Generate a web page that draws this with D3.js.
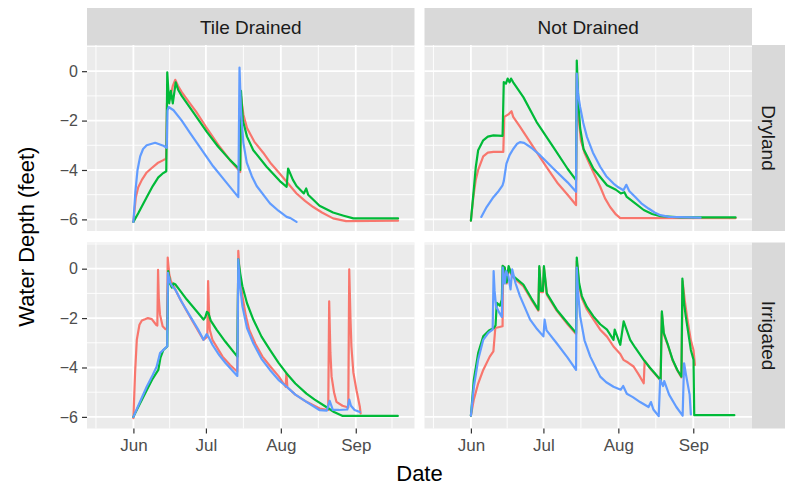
<!DOCTYPE html>
<html>
<head>
<meta charset="utf-8">
<script src="https://cdn.jsdelivr.net/npm/d3@7"></script>
<style>
  body { margin: 0; background: #fff; }
  text { font-family: "Liberation Sans", Arial, sans-serif; }
</style>
</head>
<body>
<svg id="chart" width="785" height="486"></svg>
<script>
// Water depth (feet) by day since June 1, three sites per panel.
// Each series: [day offset from Jun 1, depth].

// Tile Drained / Dryland
const tdDry1 = [[0,-6.1],[1,-5.1],[2,-4.7],[3.5,-4.4],[5.5,-4.1],[7.6,-3.92],[10,-3.72],[12.4,-3.6],[13.5,-3.55],[13.9,-1.3],[15,-1.15],[16.3,-0.6],[17.3,-0.35],[18.5,-0.6],[20,-0.85],[23,-1.25],[26,-1.65],[30,-2.25],[35.6,-3.05],[40,-3.6],[44.2,-4.08],[44.5,-1.0],[45.5,-1.75],[47,-2.3],[50,-2.85],[53.7,-3.3],[57,-3.75],[60.6,-4.15],[64,-4.55],[67.5,-4.95],[71,-5.25],[74.4,-5.5],[78,-5.72],[82.6,-5.96],[88,-6.07],[109.5,-6.05]];
const tdDry2 = [[0,-6.1],[2,-5.75],[5.5,-5.1],[8,-4.65],[10.3,-4.3],[12,-4.15],[13.6,-4.05],[14,-0.05],[14.8,-1.3],[15.5,-0.8],[16.3,-1.3],[17.5,-0.45],[18.5,-0.75],[20,-1.0],[25,-1.7],[30.3,-2.45],[35,-3.05],[40,-3.6],[44.2,-4.0],[44.5,-0.8],[45.3,-2.0],[47,-2.65],[49.6,-3.2],[55.1,-3.87],[60.6,-4.45],[63.4,-4.68],[64,-3.94],[66,-4.4],[67.5,-4.65],[70.5,-4.95],[71.5,-4.75],[72.3,-5.0],[77,-5.45],[82.6,-5.72],[87,-5.85],[91,-5.96],[109.5,-5.96]];
const tdDry3 = [[0,-6.1],[0.8,-4.9],[1.7,-4.0],[2.8,-3.45],[4,-3.15],[5.5,-3.0],[9,-2.9],[12.4,-3.02],[13.8,-3.1],[14.1,-1.6],[14.6,-1.45],[16.6,-1.58],[20,-2.0],[23.4,-2.5],[28,-3.15],[33,-3.85],[38,-4.45],[43.4,-5.1],[43.9,0.15],[44.5,-1.6],[45.5,-2.9],[46.9,-3.7],[49,-4.25],[51,-4.65],[56.5,-5.35],[60,-5.65],[63.4,-5.9],[65,-5.95],[67.5,-6.1]];

// Not Drained / Dryland
const ndDry1 = [[0,-6.05],[1,-5.1],[2,-4.4],[3,-4.0],[5.1,-3.45],[7,-3.3],[9.3,-3.27],[13.4,-3.27],[13.8,-1.85],[15.5,-1.75],[16.8,-1.62],[17.5,-1.85],[20,-2.2],[22.8,-2.62],[27,-3.25],[31.1,-3.85],[36,-4.55],[40,-5.0],[43.5,-5.42],[43.8,-0.1],[44.4,-1.7],[45.5,-2.8],[47,-3.3],[50,-3.95],[53.5,-4.68],[55.5,-5.15],[57.6,-5.5],[60,-5.8],[61.8,-5.95],[109.5,-5.95]];
const ndDry2 = [[0,-6.05],[1,-5.0],[2,-3.9],[3,-3.2],[5.1,-2.8],[7,-2.65],[9.3,-2.6],[13.1,-2.62],[13.6,-0.44],[14.5,-0.5],[15.2,-0.3],[16,-0.45],[16.6,-0.3],[17.5,-0.45],[21.7,-1.05],[27.2,-2.06],[34.1,-3.07],[40,-3.95],[43.5,-4.41],[43.8,0.43],[44.5,-1.3],[45.2,-2.3],[46.6,-3.15],[50.7,-3.95],[56.3,-4.62],[60,-4.8],[62,-4.95],[63.5,-4.9],[64.5,-5.09],[68,-5.35],[71.5,-5.62],[75,-5.78],[78.4,-5.87],[86.7,-5.92],[109.5,-5.92]];
const ndDry3 = [[4.3,-5.9],[6.5,-5.5],[9.3,-5.1],[11.5,-4.85],[13.1,-4.62],[13.6,-4.45],[14.7,-3.74],[16,-3.4],[17.5,-3.15],[19,-2.95],[20.3,-2.87],[22,-2.9],[25,-3.1],[28.6,-3.4],[34.1,-3.94],[40,-4.5],[43.5,-4.88],[43.8,-0.1],[44.3,-0.9],[45.2,-1.45],[46.5,-2.1],[48,-2.66],[50.5,-3.3],[53.5,-3.87],[56,-4.25],[59,-4.55],[61,-4.7],[63.1,-4.82],[64.3,-4.6],[65.5,-4.85],[68,-5.09],[70.5,-5.35],[73.5,-5.56],[76,-5.72],[78.4,-5.83],[82,-5.9],[95,-5.93]];

// Tile Drained / Irrigated
const tdIrr1 = [[0,-6.05],[0.7,-4.2],[1.4,-2.88],[2.5,-2.27],[3.5,-2.1],[4.8,-2.05],[6,-2.0],[7.6,-2.04],[9.4,-2.27],[9.9,-2.3],[10.2,-0.05],[10.5,-1.2],[11,-1.86],[12.1,-2.33],[13.3,-2.45],[13.9,-2.4],[14.2,0.45],[14.8,-0.2],[15.5,-0.5],[16.6,-0.7],[19.4,-1.25],[22,-1.7],[24.9,-2.2],[27,-2.55],[29,-2.88],[30.6,-2.75],[30.9,-0.5],[31.3,-1.8],[31.6,-2.47],[32.7,-2.88],[36.9,-3.56],[40,-3.9],[43,-4.17],[43.4,0.72],[44,-0.3],[45.1,-1.11],[46.5,-1.9],[47.9,-2.47],[50.5,-3.05],[53.4,-3.56],[57,-4.0],[60.2,-4.37],[63,-4.78],[63.3,-4.24],[63.7,-4.8],[67,-5.1],[71.6,-5.39],[77.1,-5.66],[80.6,-5.72],[81,-1.32],[81.5,-3.4],[82,-4.37],[83,-5.0],[84,-5.39],[86.5,-5.55],[88.9,-5.62],[89.3,-0.03],[89.8,-2.0],[90.2,-3.15],[91,-4.2],[92.3,-4.92],[93.7,-5.6],[94,-5.86]];
const tdIrr2 = [[0,-6.0],[2,-5.6],[5.5,-4.92],[8,-4.45],[10.3,-4.1],[11.2,-3.6],[12.4,-3.29],[14,-3.15],[14.4,-0.1],[15.2,-0.6],[15.9,-0.77],[16.6,-0.6],[17.3,-0.63],[19,-0.85],[22.1,-1.25],[26,-1.7],[29,-2.06],[29.8,-1.95],[30.4,-1.75],[31,-1.79],[32,-2.1],[34.4,-2.47],[38,-2.95],[43,-3.56],[43.4,0.38],[44.2,-0.2],[45.1,-0.71],[47,-1.4],[49.6,-2.06],[53,-2.75],[56.5,-3.29],[60,-3.8],[63.4,-4.24],[67,-4.65],[71.6,-5.06],[75,-5.3],[79.8,-5.6],[83,-5.8],[86.6,-5.96],[109.4,-5.96]];
const tdIrr3 = [[0,-6.0],[2,-5.55],[5.5,-4.78],[8,-4.3],[9.6,-3.97],[11,-3.42],[13.1,-3.22],[14,-3.15],[14.3,-0.17],[15.2,-0.57],[16,-0.7],[17.3,-0.84],[20,-1.35],[23.5,-1.93],[27,-2.5],[29,-2.88],[30.3,-2.65],[31,-2.75],[32.7,-3.08],[35.5,-3.5],[38.2,-3.83],[43,-4.34],[43.4,0.38],[44,-0.6],[45.1,-1.52],[47,-2.4],[49.6,-3.02],[53,-3.65],[56.5,-4.1],[60,-4.5],[63.4,-4.78],[67,-5.1],[71.6,-5.39],[77.1,-5.73],[80,-5.75],[81.2,-5.35],[82.5,-5.72],[85,-5.72],[88.5,-5.7],[89.3,-5.3],[90,-5.55],[91.5,-5.72],[93.7,-5.8]];

// Not Drained / Irrigated
const ndIrr1 = [[0,-5.95],[1.2,-5.3],[3,-4.65],[5.1,-4.1],[7.8,-3.56],[9.3,-3.35],[10.1,-2.4],[13.1,-2.33],[13.3,0.11],[14,0.0],[14.8,-0.6],[15.7,0.05],[16.5,-0.2],[17.5,-0.35],[21.7,-0.71],[25,-1.25],[27.9,-1.7],[28.3,0.05],[29,-0.95],[29.8,-0.95],[30.2,0.05],[31.4,-1.05],[35.5,-1.7],[40,-2.25],[43.5,-2.65],[43.8,0.3],[44.8,-0.7],[45.9,-1.2],[48,-1.65],[50.7,-2.05],[53.5,-2.47],[56.3,-2.75],[59,-3.15],[61.8,-3.45],[63.1,-3.69],[65,-3.8],[67.3,-3.96],[69.5,-4.3],[71.5,-4.64],[71.9,-3.72],[74,-4.02],[78.5,-4.53],[79,-1.8],[79.8,-2.65],[81.3,-3.05],[83.5,-3.72],[85.4,-4.12],[87.1,-4.4],[87.6,-0.5],[88.5,-1.3],[89.5,-2.0],[91,-2.9],[92.1,-3.3],[92.7,-3.9]];
const ndIrr2 = [[0,-5.95],[1.2,-4.5],[3,-3.42],[5.1,-2.74],[7.5,-2.5],[9.5,-2.4],[10.2,-2.3],[10.7,-1.38],[12,-1.5],[12.8,-1.25],[13.1,0.11],[14,0.05],[14.8,-0.55],[15.6,0.1],[16.5,-0.15],[17.5,-0.3],[21.7,-0.64],[25,-1.2],[27.9,-1.66],[28.3,0.1],[29,-0.9],[29.8,-0.9],[30.2,0.1],[31.4,-1.0],[35.5,-1.66],[40,-2.2],[43.5,-2.6],[43.8,0.45],[44.8,-0.6],[45.9,-1.11],[48,-1.55],[50.7,-1.93],[53.5,-2.25],[56.3,-2.47],[59,-2.88],[59.5,-2.47],[61.8,-3.08],[63.2,-2.13],[65.9,-2.88],[68,-3.2],[71.5,-3.69],[74,-4.0],[78.5,-4.51],[79,-1.73],[79.8,-2.6],[81.3,-3.02],[83.5,-3.7],[85.4,-4.1],[87.1,-4.37],[87.5,-0.4],[88.2,-1.4],[88.9,-1.93],[91,-3.29],[92.1,-3.69],[92.4,-5.93],[109,-5.93]];
const ndIrr3 = [[0,-5.95],[1.2,-4.8],[3,-3.69],[5.1,-2.88],[7.2,-2.6],[9,-2.47],[9.4,-0.1],[9.8,-0.9],[10.4,-1.52],[11.8,-1.79],[12.8,-1.95],[13.2,0.04],[14,-0.6],[14.6,-0.1],[15.5,-0.3],[16.4,-0.84],[17.1,-0.03],[18.5,-0.6],[20.3,-1.11],[24.5,-2.06],[27,-2.4],[30,-2.74],[30.5,-2.06],[31.3,-2.5],[35.5,-3.02],[40,-3.6],[43.5,-4.1],[43.8,0.04],[44.3,-0.9],[45.2,-1.93],[47,-2.9],[49.4,-3.56],[53.5,-4.37],[56,-4.6],[59,-4.78],[62,-4.9],[63,-4.75],[64.5,-5.06],[67,-5.2],[70,-5.4],[73.5,-5.6],[74.5,-5.4],[75.5,-5.7],[77.7,-5.97],[78.3,-4.5],[79.5,-4.75],[80,-4.55],[82,-5.1],[85,-5.6],[87.6,-5.95],[88.2,-3.83],[89,-4.3],[90.5,-5.1],[91,-5.9]];

const drainage = ["Tile Drained", "Not Drained"];
const cropping = ["Dryland", "Irrigated"];
const yTicks = [0, -2, -4, -6];
const yMinor = [1, -1, -3, -5];
const seriesColors = ["#F8766D", "#00BA38", "#619CFF"];

const panelData = [
  { row: 0, col: 0, series: [tdDry1, tdDry2, tdDry3] },
  { row: 0, col: 1, series: [ndDry1, ndDry2, ndDry3] },
  { row: 1, col: 0, series: [tdIrr1, tdIrr2, tdIrr3] },
  { row: 1, col: 1, series: [ndIrr1, ndIrr2, ndIrr3] }
];

const season = new Date(2016, 5, 1);
const toDate = d => new Date(season.getTime() + d * 864e5);

// facet layout
const colX = [87, 424.5], panelW = 327.5;
const rowY = [45, 242.5], panelH = 186;
const stripTop = 8, stripW = 33;

const svg = d3.select("#chart");

const x = d3.scaleTime().domain([toDate(-19.2), toDate(116.3)]).range([0, panelW]);
const y = d3.scaleLinear().domain([-6.47, 1.06]).range([panelH, 0]);

const majorX = d3.timeMonth.range(new Date(2016, 4, 1), new Date(2016, 9, 2));
const minorX = d3.pairs(majorX).map(([a, b]) => new Date((a.getTime() + b.getTime()) / 2));
const inX = d => d >= x.domain()[0] && d <= x.domain()[1];

const line = d3.line().x(d => x(toDate(d[0]))).y(d => y(d[1]));

const defs = svg.append("defs");
defs.append("clipPath").attr("id", "panelClip")
  .append("rect").attr("width", panelW).attr("height", panelH);

panelData.forEach(p => {
  const g = svg.append("g").attr("transform", `translate(${colX[p.col]},${rowY[p.row]})`);
  g.append("rect").attr("width", panelW).attr("height", panelH).attr("fill", "#EBEBEB");

  const grid = g.append("g").attr("stroke", "#fff");
  grid.selectAll(".hmin").data(yMinor.filter(v => v >= y.domain()[0] && v <= y.domain()[1])).join("line")
    .attr("x1", 0).attr("x2", panelW).attr("y1", d => y(d)).attr("y2", d => y(d)).attr("stroke-width", 0.9);
  grid.selectAll(".vmin").data(minorX.filter(inX)).join("line")
    .attr("y1", 0).attr("y2", panelH).attr("x1", d => x(d)).attr("x2", d => x(d)).attr("stroke-width", 0.9);
  grid.selectAll(".hmaj").data(yTicks).join("line")
    .attr("x1", 0).attr("x2", panelW).attr("y1", d => y(d)).attr("y2", d => y(d)).attr("stroke-width", 1.8);
  grid.selectAll(".vmaj").data(majorX.filter(inX)).join("line")
    .attr("y1", 0).attr("y2", panelH).attr("x1", d => x(d)).attr("x2", d => x(d)).attr("stroke-width", 1.8);

  const lines = g.append("g").attr("clip-path", "url(#panelClip)");
  p.series.forEach((s, i) => {
    lines.append("path").datum(s).attr("d", line)
      .attr("fill", "none").attr("stroke", seriesColors[i])
      .attr("stroke-width", 2.2).attr("stroke-linejoin", "round").attr("stroke-linecap", "round");
  });

  // left axis on first column
  if (p.col === 0) {
    const ax = g.append("g").call(d3.axisLeft(y).tickValues(yTicks).tickSize(5).tickPadding(4)
      .tickFormat(d => d < 0 ? "\u2212" + Math.abs(d) : d));
    ax.select(".domain").remove();
    ax.selectAll("line").attr("stroke", "#333").attr("stroke-width", 1.2);
    ax.selectAll("text").attr("fill", "#4D4D4D").style("font-size", "16px")
      .style("font-family", "'Liberation Sans', Arial, sans-serif");
  }
  // bottom axis on last row
  if (p.row === 1) {
    const ax = g.append("g").attr("transform", `translate(0,${panelH})`)
      .call(d3.axisBottom(x).tickValues(majorX.filter(inX)).tickSize(5).tickPadding(5)
        .tickFormat(d3.timeFormat("%b")));
    ax.select(".domain").remove();
    ax.selectAll("line").attr("stroke", "#333").attr("stroke-width", 1.2);
    ax.selectAll("text").attr("fill", "#4D4D4D").style("font-size", "17px")
      .style("font-family", "'Liberation Sans', Arial, sans-serif");
  }
});

// column strips
drainage.forEach((name, c) => {
  svg.append("rect").attr("x", colX[c]).attr("y", stripTop)
    .attr("width", panelW).attr("height", rowY[0] - stripTop).attr("fill", "#D9D9D9");
  svg.append("text").attr("x", colX[c] + panelW / 2).attr("y", (stripTop + rowY[0]) / 2 + 1)
    .attr("text-anchor", "middle").attr("dominant-baseline", "central")
    .attr("fill", "#1A1A1A").style("font-size", "19px").text(name);
});

// row strips
const stripX = colX[1] + panelW;
cropping.forEach((name, r) => {
  svg.append("rect").attr("x", stripX).attr("y", rowY[r])
    .attr("width", stripW).attr("height", panelH).attr("fill", "#D9D9D9");
  const cx = stripX + stripW / 2, cy = rowY[r] + panelH / 2;
  svg.append("text").attr("transform", `translate(${cx},${cy}) rotate(90)`)
    .attr("text-anchor", "middle").attr("dominant-baseline", "central")
    .attr("fill", "#1A1A1A").style("font-size", "19px").text(name);
});

// axis titles
svg.append("text").attr("x", (colX[0] + colX[1] + panelW) / 2).attr("y", 481)
  .attr("text-anchor", "middle").attr("fill", "#000").style("font-size", "22px").text("Date");
svg.append("text").attr("transform", `translate(34,${(rowY[0] + rowY[1] + panelH) / 2}) rotate(-90)`)
  .attr("text-anchor", "middle").attr("fill", "#000").style("font-size", "22px").text("Water Depth (feet)");
</script>
</body>
</html>
